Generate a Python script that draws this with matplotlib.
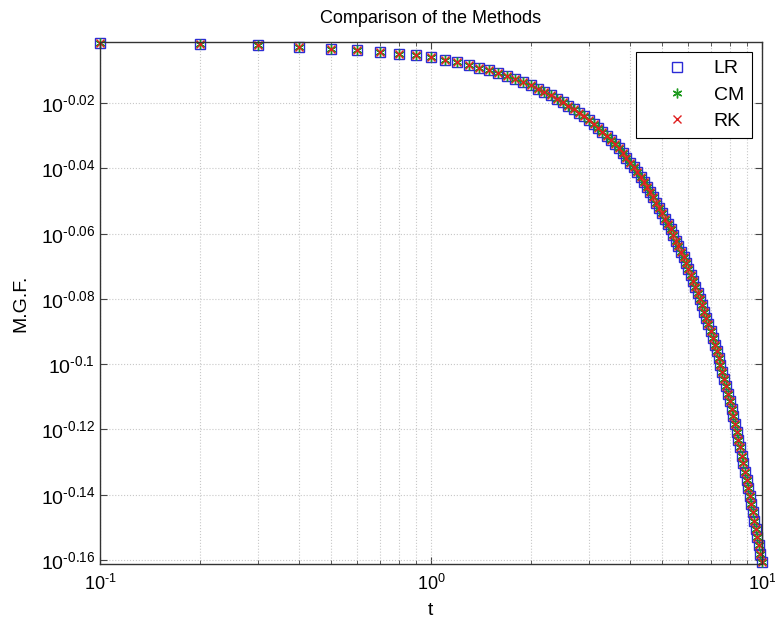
import numpy as np
import matplotlib
matplotlib.use('Agg')
import matplotlib.pyplot as plt
from matplotlib.ticker import FixedLocator, FixedFormatter, NullFormatter

plt.rcParams['font.family'] = ['Liberation Sans', 'DejaVu Sans']
plt.rcParams['mathtext.fontset'] = 'custom'
plt.rcParams['mathtext.rm'] = 'Liberation Sans'
plt.rcParams['mathtext.it'] = 'Liberation Sans'

# time points 0.1 .. 10
t = [round(0.1 * i, 1) for i in range(1, 101)]

# -log10(M.G.F.)
neg_log_mgf = [
    0.0015, 0.0018, 0.0022, 0.0027, 0.0033, 0.0038, 0.0044, 0.0049, 0.0054, 0.0059,
    0.0067, 0.0075, 0.0083, 0.0091, 0.0100, 0.0108, 0.0117, 0.0126, 0.0136, 0.0146,
    0.0156, 0.0166, 0.0176, 0.0186, 0.0197, 0.0208, 0.0218, 0.0229, 0.0240, 0.0252,
    0.0264, 0.0276, 0.0288, 0.0300, 0.0313, 0.0326, 0.0339, 0.0353, 0.0367, 0.0382,
    0.0397, 0.0412, 0.0427, 0.0442, 0.0458, 0.0473, 0.0489, 0.0505, 0.0521, 0.0537,
    0.0554, 0.0570, 0.0587, 0.0604, 0.0621, 0.0638, 0.0655, 0.0673, 0.0691, 0.0709,
    0.0727, 0.0745, 0.0763, 0.0782, 0.0800, 0.0819, 0.0839, 0.0858, 0.0878, 0.0899,
    0.0919, 0.0940, 0.0961, 0.0982, 0.1003, 0.1024, 0.1046, 0.1068, 0.1091, 0.1114,
    0.1137, 0.1160, 0.1184, 0.1207, 0.1231, 0.1255, 0.1280, 0.1304, 0.1329, 0.1354,
    0.1379, 0.1404, 0.1429, 0.1454, 0.1479, 0.1504, 0.1530, 0.1555, 0.1581, 0.1607,
]
# the three methods agree to plotting accuracy
lr = [10 ** (-v) for v in neg_log_mgf]
cm = list(lr)
rk = list(lr)

ytick_exp = [-0.16, -0.14, -0.12, -0.10, -0.08, -0.06, -0.04, -0.02]
ytick_labels = [r'$10^{\text{-0.16}}$', r'$10^{\text{-0.14}}$', r'$10^{\text{-0.12}}$',
                r'$10^{\text{-0.1}}$', r'$10^{\text{-0.08}}$', r'$10^{\text{-0.06}}$',
                r'$10^{\text{-0.04}}$', r'$10^{\text{-0.02}}$']

fig = plt.figure(figsize=(7.75, 6.28), dpi=100)
ax = fig.add_axes([0.129, 0.102, 0.854, 0.831])

ax.loglog(t, lr, 's', mfc='none', mec='#2b2bd6', ms=7.5, mew=1.0, label='LR', clip_on=False)
ax.loglog(t, cm, marker=(6, 2, 0), ls='none', color='#1f9a1f', ms=7, mew=1.0, label='CM',
          clip_on=False)
ax.loglog(t, rk, 'x', color='#e02020', ms=6, mew=1.0, label='RK', clip_on=False)

ax.set_xlim(0.1, 10)
ax.set_ylim(10 ** -0.1612, 10 ** -0.0013)

ax.yaxis.set_major_locator(FixedLocator([10 ** e for e in ytick_exp]))
ax.yaxis.set_major_formatter(FixedFormatter(ytick_labels))
ax.yaxis.set_minor_locator(FixedLocator([]))
ax.yaxis.set_minor_formatter(NullFormatter())

ax.xaxis.set_major_locator(FixedLocator([0.1, 1, 10]))
ax.xaxis.set_major_formatter(FixedFormatter([r'$10^{\text{-1}}$', r'$10^{0}$', r'$10^{1}$']))
minor_x = [k * d for d in (0.1, 1) for k in range(2, 10)]
ax.xaxis.set_minor_locator(FixedLocator(minor_x))
ax.xaxis.set_minor_formatter(NullFormatter())

ax.grid(True, which='major', ls=':', color='#c8c8c8', lw=0.8)
ax.grid(True, which='minor', axis='x', ls=':', color='#c8c8c8', lw=0.8)
ax.tick_params(which='both', direction='in', top=True, right=True, labelsize=14,
               color='#444444')
ax.tick_params(axis='x', which='major', labelsize=13, pad=7)
ax.tick_params(which='major', length=5)
ax.tick_params(which='minor', length=3)
for s in ax.spines.values():
    s.set_color('#333333')
    s.set_linewidth(1.0)

ax.set_title('Comparison of the Methods', fontsize=13, pad=14)
ax.set_xlabel('t', fontsize=14, labelpad=6)
ax.set_ylabel('M.G.F.', fontsize=14, labelpad=8)

leg = ax.legend(loc='upper right', fontsize=14, fancybox=False, edgecolor='black',
                framealpha=1, handletextpad=0.2, handlelength=3.4, borderaxespad=0,
                labelspacing=0.45, bbox_to_anchor=(0.985, 0.981))
leg.get_frame().set_linewidth(0.8)

fig.savefig('out.png', dpi=100)
